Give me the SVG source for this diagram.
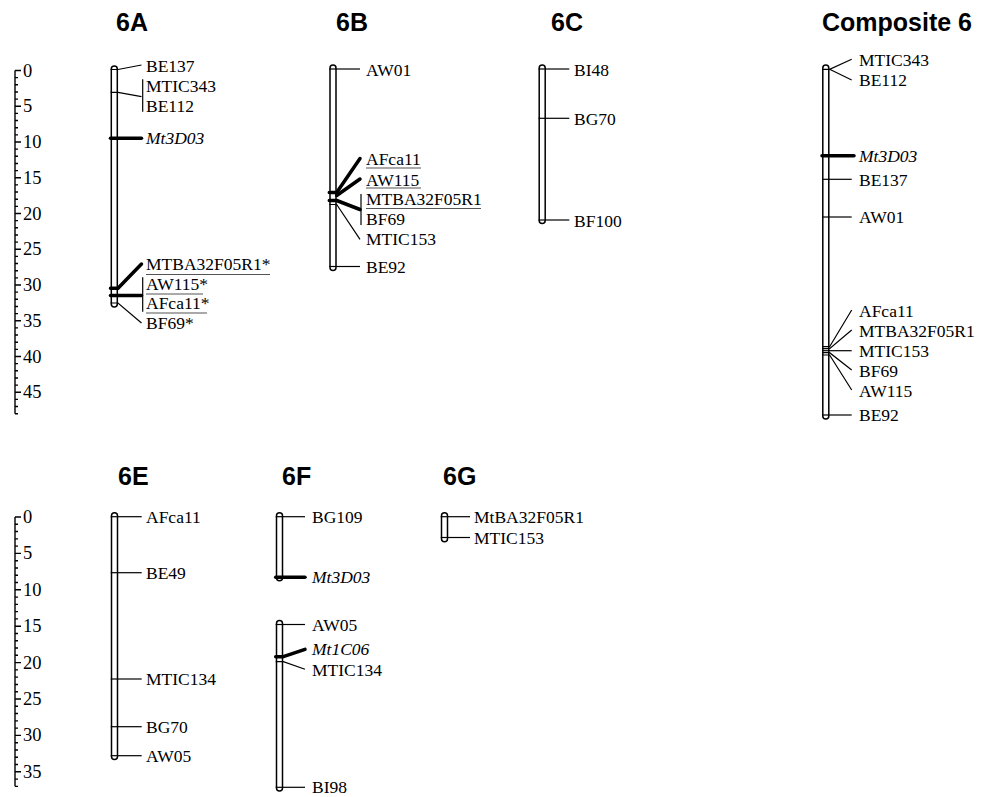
<svg xmlns="http://www.w3.org/2000/svg" width="992" height="797" viewBox="0 0 992 797">
<style>
.bar{fill:#fff;stroke:#000;stroke-width:1.5}
.m{stroke:#000;stroke-width:1.2;fill:none}
.k{stroke:#000;stroke-width:3.5;fill:none;stroke-linecap:round}
.ul{stroke:#555;stroke-width:1.2}
.sc{stroke:#000;stroke-width:1.4;fill:none}
.l{font-family:"Liberation Serif","Times New Roman",serif;font-size:17.5px;fill:#000}
.n{font-family:"Liberation Serif","Times New Roman",serif;font-size:18.5px;fill:#000}
.i{font-style:italic}
.h{font-family:"Liberation Sans",Arial,sans-serif;font-weight:bold;font-size:25px;fill:#000}
</style>
<rect width="992" height="797" fill="#fff"/>
<g id="titles">
<text class="h" x="116" y="31">6A</text>
<text class="h" x="336" y="31">6B</text>
<text class="h" x="551" y="31">6C</text>
<text class="h" x="822" y="31">Composite 6</text>
<text class="h" x="118" y="485">6E</text>
<text class="h" x="282" y="485">6F</text>
<text class="h" x="443" y="485">6G</text>
</g>
<g id="scale-top">
<path class="sc" d="M15 70.5V413.7 M15 70.5H21 M15 77.65H18 M15 84.8H18 M15 91.95H18 M15 99.1H18 M15 106.25H21 M15 113.4H18 M15 120.55H18 M15 127.7H18 M15 134.85H18 M15 142H21 M15 149.15H18 M15 156.3H18 M15 163.45H18 M15 170.6H18 M15 177.75H21 M15 184.9H18 M15 192.05H18 M15 199.2H18 M15 206.35H18 M15 213.5H21 M15 220.65H18 M15 227.8H18 M15 234.95H18 M15 242.1H18 M15 249.25H21 M15 256.4H18 M15 263.55H18 M15 270.7H18 M15 277.85H18 M15 285H21 M15 292.15H18 M15 299.3H18 M15 306.45H18 M15 313.6H18 M15 320.75H21 M15 327.9H18 M15 335.05H18 M15 342.2H18 M15 349.35H18 M15 356.5H21 M15 363.65H18 M15 370.8H18 M15 377.95H18 M15 385.1H18 M15 392.25H21 M15 399.4H18 M15 406.55H18 M15 413.7H18"/>
<text class="n" x="23" y="76.5">0</text>
<text class="n" x="23" y="112.25">5</text>
<text class="n" x="23" y="148">10</text>
<text class="n" x="23" y="183.75">15</text>
<text class="n" x="23" y="219.5">20</text>
<text class="n" x="23" y="255.25">25</text>
<text class="n" x="23" y="291">30</text>
<text class="n" x="23" y="326.75">35</text>
<text class="n" x="23" y="362.5">40</text>
<text class="n" x="23" y="398.25">45</text>
</g>
<g id="scale-bottom">
<path class="sc" d="M15 517V786.36 M15 517H21 M15 524.28H18 M15 531.56H18 M15 538.84H18 M15 546.12H18 M15 553.4H21 M15 560.68H18 M15 567.96H18 M15 575.24H18 M15 582.52H18 M15 589.8H21 M15 597.08H18 M15 604.36H18 M15 611.64H18 M15 618.92H18 M15 626.2H21 M15 633.48H18 M15 640.76H18 M15 648.04H18 M15 655.32H18 M15 662.6H21 M15 669.88H18 M15 677.16H18 M15 684.44H18 M15 691.72H18 M15 699H21 M15 706.28H18 M15 713.56H18 M15 720.84H18 M15 728.12H18 M15 735.4H21 M15 742.68H18 M15 749.96H18 M15 757.24H18 M15 764.52H18 M15 771.8H21 M15 779.08H18 M15 786.36H18"/>
<text class="n" x="23" y="523">0</text>
<text class="n" x="23" y="559.4">5</text>
<text class="n" x="23" y="595.8">10</text>
<text class="n" x="23" y="632.2">15</text>
<text class="n" x="23" y="668.6">20</text>
<text class="n" x="23" y="705">25</text>
<text class="n" x="23" y="741.4">30</text>
<text class="n" x="23" y="777.8">35</text>
</g>
<g id="chr-6A">
<rect class="bar" x="111.3" y="66" width="6" height="241" rx="3"/>
<text class="l" x="146" y="72">BE137</text>
<text class="l" x="146" y="92">MTIC343</text>
<text class="l" x="146" y="112">BE112</text>
<text class="l i" x="146" y="144">Mt3D03</text>
<text class="l" x="146" y="270">MTBA32F05R1*</text>
<text class="l" x="146" y="290">AW115*</text>
<text class="l" x="146" y="308.5">AFca11*</text>
<text class="l" x="146" y="328.5">BF69*</text>
<path class="ul" d="M146 274.5H270 M146 294H203 M146 313H207"/>
</g>
<g id="chr-6B">
<rect class="bar" x="330" y="65" width="6" height="205.5" rx="3"/>
<text class="l" x="366" y="75.5">AW01</text>
<text class="l" x="366" y="165">AFca11</text>
<text class="l" x="366" y="185.5">AW115</text>
<text class="l" x="366" y="205">MTBA32F05R1</text>
<text class="l" x="366" y="225">BF69</text>
<text class="l" x="366" y="245">MTIC153</text>
<text class="l" x="366" y="272.5">BE92</text>
<path class="ul" d="M366 168H421 M366 188H421 M366 208.5H481"/>
</g>
<g id="chr-6C">
<rect class="bar" x="539.2" y="65" width="6" height="158.5" rx="3"/>
<text class="l" x="574" y="75.5">BI48</text>
<text class="l" x="574" y="124.5">BG70</text>
<text class="l" x="574" y="226.5">BF100</text>
</g>
<g id="chr-composite">
<rect class="bar" x="822.8" y="65" width="6" height="354" rx="3"/>
<text class="l" x="859" y="65.5">MTIC343</text>
<text class="l" x="859" y="85.5">BE112</text>
<text class="l i" x="859" y="161.5">Mt3D03</text>
<text class="l" x="859" y="185.5">BE137</text>
<text class="l" x="859" y="223">AW01</text>
<text class="l" x="859" y="316.5">AFca11</text>
<text class="l" x="859" y="336.5">MTBA32F05R1</text>
<text class="l" x="859" y="356.5">MTIC153</text>
<text class="l" x="859" y="376.5">BF69</text>
<text class="l" x="859" y="396.5">AW115</text>
<text class="l" x="859" y="421">BE92</text>
</g>
<g id="chr-6E">
<rect class="bar" x="111.5" y="512.7" width="6" height="246.8" rx="3"/>
<text class="l" x="146" y="522.7">AFca11</text>
<text class="l" x="146" y="578.7">BE49</text>
<text class="l" x="146" y="685">MTIC134</text>
<text class="l" x="146" y="732.7">BG70</text>
<text class="l" x="146" y="761.7">AW05</text>
</g>
<g id="chr-6F">
<rect class="bar" x="276.5" y="512.7" width="6" height="68" rx="3"/>
<rect class="bar" x="276.5" y="620.5" width="6" height="170.5" rx="3"/>
<text class="l" x="312" y="522.7">BG109</text>
<text class="l i" x="312" y="583">Mt3D03</text>
<text class="l" x="312" y="630.7">AW05</text>
<text class="l i" x="312" y="655">Mt1C06</text>
<text class="l" x="312" y="676">MTIC134</text>
<text class="l" x="312" y="793.3">BI98</text>
</g>
<g id="chr-6G">
<rect class="bar" x="441.5" y="512.7" width="6" height="29" rx="3"/>
<text class="l" x="474" y="523">MtBA32F05R1</text>
<text class="l" x="474" y="543.5">MTIC153</text>
</g>
<g id="connectors">
<path class="m" d="M110.5 69.5H118 L141.5 65"/>
<path class="m" d="M110.5 92.3H118 L141.5 96.7 M142.7 79.3V111.7"/>
<path class="k" d="M110.5 138.3H141.5" stroke-linecap="butt"/>
<path class="k" d="M110.5 288.3H118 L141.5 264" stroke-linecap="butt" stroke-linejoin="round"/>
<path class="k" d="M110.5 295.5H141.5" stroke-linecap="butt"/>
<path class="m" d="M142.7 277.3V311.7"/>
<path class="m" d="M110.5 303H118 L141.5 323"/>
<path class="m" d="M329.3 69H360"/>
<path class="k" d="M329.3 192.5H336.7 L360 158.5" stroke-linecap="butt" stroke-linejoin="round"/>
<path class="k" d="M336.7 195.5L360 179" stroke-linecap="butt"/>
<path class="k" d="M329.3 200.5H336.7 L360 209.5" stroke-linecap="butt" stroke-linejoin="round"/>
<path class="m" d="M361 194V225"/>
<path class="m" d="M329.3 204.5H336.7 L360 239.3"/>
<path class="m" d="M329.3 266.5H360"/>
<path class="m" d="M538.5 69H569.3"/>
<path class="m" d="M538.5 118.3H569.3"/>
<path class="m" d="M538.5 220H569.3"/>
<path class="m" d="M822 69.3H829.6 L851.7 59.3 M829.6 69.3L851.7 80"/>
<path class="k" d="M822 155.7H854" stroke-linecap="butt"/>
<path class="m" d="M822 179.3H851.7"/>
<path class="m" d="M822 217H851.7"/>
<path class="m" d="M822 346.7H829.6 L851.7 310"/>
<path class="m" d="M822 348.7H829.6 L851.7 330"/>
<path class="m" d="M822 350.7H851.7"/>
<path class="m" d="M822 352.7H829.6 L851.7 370"/>
<path class="m" d="M822 355H829.6 L851.7 390"/>
<path class="m" d="M822 415H851.7"/>
<path class="m" d="M110.7 516.7H141.7"/>
<path class="m" d="M110.7 572.7H141.7"/>
<path class="m" d="M110.7 679H141.7"/>
<path class="m" d="M110.7 726.7H141.7"/>
<path class="m" d="M110.7 755.7H141.7"/>
<path class="m" d="M275.7 516.7H305"/>
<path class="k" d="M275.7 577.3H305" stroke-linecap="butt"/>
<path class="m" d="M275.7 624.5H305"/>
<path class="k" d="M275.7 656.7H283.3 L305 649.3" stroke-linecap="butt" stroke-linejoin="round"/>
<path class="m" d="M275.7 661.7H283.3 L305 669.3"/>
<path class="m" d="M275.7 787.3H305"/>
<path class="m" d="M440.7 516.7H470"/>
<path class="m" d="M440.7 537.5H470"/>
</g>
</svg>
